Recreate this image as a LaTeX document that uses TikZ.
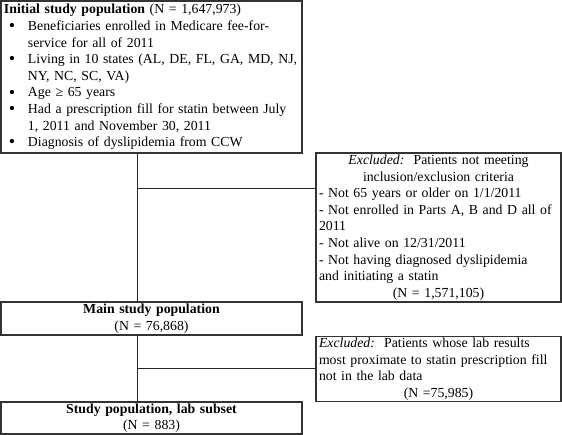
\documentclass[tikz,border=0pt]{standalone}
\usepackage{fontspec}
\setmainfont{Liberation Serif}
\usetikzlibrary{calc}
\newcommand{\bul}{\makebox[19pt][l]{\raisebox{-1.2pt}{\fontsize{18}{18}\selectfont\textbullet}}}

\begin{document}
\begin{tikzpicture}[
  x=1pt, y=-1pt,
  font=\fontsize{13.8}{16.6}\selectfont,
  popbox/.style={draw=black!80, line width=1.1pt, minimum width=301pt, text width=295pt, inner xsep=3pt, inner ysep=1pt, align=center},
  exclbox/.style={popbox, minimum width=245pt, text width=239pt, align=left},
  link/.style={line width=0.9pt, draw=black!85}
]
\useasboundingbox (0,0) rectangle (562,435);

\node[popbox, align=left, minimum height=152pt] (init) at (151.5,77) {\begin{tabular}{@{\hspace{5pt}}l@{}l@{}}
\multicolumn{2}{@{}l@{}}{\textbf{Initial study population} (N = 1,647,973)}\\
\bul & Beneficiaries enrolled in Medicare fee-for-\\
     & service for all of 2011\\
\bul & Living in 10 states (AL, DE, FL, GA, MD, NJ,\\
     & NY, NC, SC, VA)\\
\bul & Age ≥ 65 years\\
\bul & Had a prescription fill for statin between July\\
     & 1, 2011 and November 30, 2011\\
\bul & Diagnosis of dyslipidemia from CCW
\end{tabular}};

\node[exclbox, minimum height=149pt] (ex1) at (438.5,227.5) {{\centering\textit{Excluded:}\ \ Patients not meeting\\inclusion/exclusion criteria\par}
- Not 65 years or older on 1/1/2011\\
- Not enrolled in Parts A, B and D all of\\2011\\
- Not alive on 12/31/2011\\
- Not having diagnosed dyslipidemia\\and initiating a statin\par
{\centering (N = 1,571,105)\par}};

\node[popbox, minimum height=33pt] (main) at (151.5,318.5) {\textbf{Main study population}\\(N = 76,868)};

\node[exclbox, minimum height=64pt] (ex2) at (438.5,369) {\textit{Excluded:}\ \ Patients whose lab results\\most proximate to statin prescription fill\\not in the lab data\par
{\centering (N =75,985)\par}};

\node[popbox, minimum height=32pt] (lab) at (151.5,418) {\textbf{Study population, lab subset}\\(N = 883)};

% spine and side branches
\coordinate (s1) at (137,188);
\coordinate (s2) at (137,368);
\draw[link] (init.south -| s1) -- (main.north -| s1);
\draw[link] (s1) -- (s1 -| ex1.west);
\draw[link] (main.south -| s1) -- (lab.north -| s1);
\draw[link] (s2) -- (s2 -| ex2.west);

\end{tikzpicture}
\end{document}
